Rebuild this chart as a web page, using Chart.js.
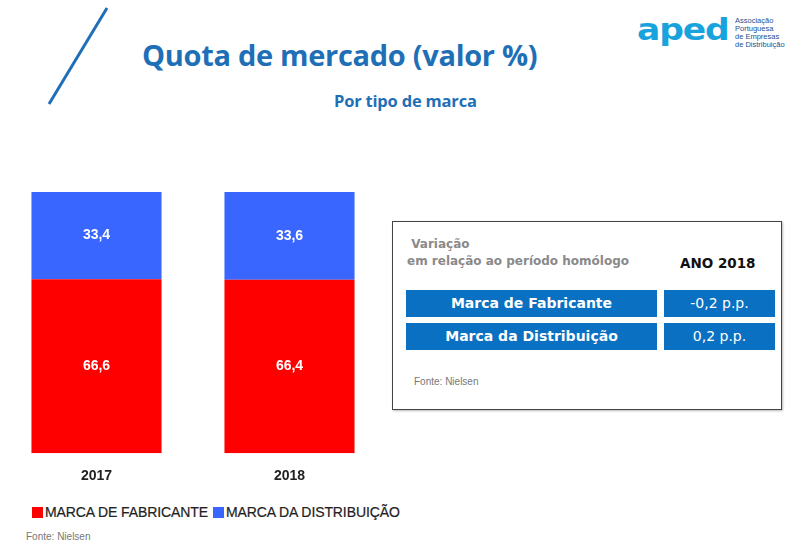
<!DOCTYPE html>
<html>
<head>
<meta charset="utf-8">
<script src="https://cdn.jsdelivr.net/npm/chart.js@4/dist/chart.umd.min.js"></script>
<style>
  html, body { margin: 0; padding: 0; background: #fff; }
  body { width: 800px; height: 552px; position: relative; overflow: hidden; font-family: "Liberation Sans", Arial, sans-serif; }
  .abs { position: absolute; }
  #title { left: 142px; top: 35px; font: 700 29px "Open Sans", sans-serif; color: #1f6fb7; white-space: nowrap; letter-spacing: -0.3px; }
  #subtitle { left: 334px; top: 89px; font: 700 16.5px "Open Sans", sans-serif; color: #1f6fb7; white-space: nowrap; letter-spacing: -0.2px; }
  #logo { left: 637px; top: 12px; font: 700 30px "DejaVu Sans", sans-serif; color: #19a3dd; transform: scaleX(1.15); transform-origin: left top; letter-spacing: -1px; }
  #logoText { left: 735px; top: 17px; font: 7.5px/8px "Liberation Sans", sans-serif; color: #1f4f8f; }
  #chartBox { left: 0; top: 185px; width: 390px; height: 307px; }
  #legend { left: 32px; top: 504px; font: 14px "Liberation Sans", sans-serif; color: #222; white-space: nowrap; -webkit-text-stroke: 0.2px #222; letter-spacing: -0.1px; }
  #legend span.sw { display: inline-block; width: 11px; height: 11px; margin-right: 2px; vertical-align: -1px; }
  #legend span.item { margin-right: 5px; }
  #fonte { left: 26px; top: 531px; font: 10px "Liberation Sans", sans-serif; color: #777; }
  #panel { left: 392px; top: 221px; width: 388px; height: 187px; border: 1px solid #444; box-shadow: 1px 1px 2px #bbb; background: #fff; }
  #varA { left: 14px; top: 14px; font: 700 12px/17px "DejaVu Sans", sans-serif; color: #8a8a8a; }
  #ano { left: 287px; top: 33px; font: 700 13.5px "DejaVu Sans", sans-serif; color: #111; }
  .rowL, .rowR { position: absolute; height: 27px; line-height: 27px; background: #0a70c2; color: #fff; text-align: center; font-family: "DejaVu Sans", sans-serif; }
  .rowL { left: 13px; width: 251px; font-weight: 700; font-size: 14px; }
  .rowR { left: 271px; width: 111px; font-size: 14px; }
  #fonteP { left: 21px; top: 154px; font: 10px "Liberation Sans", sans-serif; color: #777; }
</style>
</head>
<body>
<svg class="abs" style="left:0;top:0" width="120" height="110"><line x1="107" y1="8" x2="49" y2="104" stroke="#1f6fb7" stroke-width="3"/></svg>
<div id="title" class="abs">Quota de mercado (valor %)</div>
<div id="subtitle" class="abs">Por tipo de marca</div>
<div id="logo" class="abs">aped</div>
<div id="logoText" class="abs">Associação<br>Portuguesa<br>de Empresas<br>de Distribuição</div>

<div id="chartBox" class="abs"><canvas id="quotaChart"></canvas></div>
<div id="legend" class="abs"></div>
<div id="fonte" class="abs">Fonte: Nielsen</div>

<div id="panel" class="abs">
  <div id="varA" class="abs">&nbsp;Variação<br>em relação ao período homólogo</div>
  <div id="ano" class="abs">ANO 2018</div>
  <div id="rows"></div>
  <div id="fonteP" class="abs">Fonte: Nielsen</div>
</div>

<script>
const years = ['2017', '2018'];
const fabricante = [66.6, 66.4];
const distribuicao = [33.4, 33.6];
const seriesNames = ['MARCA DE FABRICANTE', 'MARCA DA DISTRIBUIÇÃO'];
const seriesColors = ['#ff0000', '#3966ff'];

const variacaoLabels = ['Marca de Fabricante', 'Marca da Distribuição'];
const variacaoValues = [-0.2, 0.2];

const fmt = v => v.toFixed(1).replace('.', ',');

// table on the right
const rows = document.getElementById('rows');
variacaoLabels.forEach((lab, i) => {
  const top = 68 + i * 33;
  rows.innerHTML += '<div class="rowL" style="top:' + top + 'px">' + lab + '</div>' +
    '<div class="rowR" style="top:' + top + 'px">' + fmt(variacaoValues[i]) + ' p.p.</div>';
});

// legend
const legend = document.getElementById('legend');
seriesNames.forEach((n, i) => {
  legend.innerHTML += '<span class="item"><span class="sw" style="background:' + seriesColors[i] + '"></span>' + n + '</span>';
});

const valueLabels = {
  id: 'valueLabels',
  afterDatasetsDraw(chart) {
    const ctx = chart.ctx;
    ctx.save();
    ctx.fillStyle = '#fff';
    ctx.font = 'bold 14px "Liberation Sans", Arial';
    ctx.textAlign = 'center';
    ctx.textBaseline = 'middle';
    chart.data.datasets.forEach((ds, di) => {
      chart.getDatasetMeta(di).data.forEach((bar, i) => {
        const p = bar.getCenterPoint();
        ctx.fillText(fmt(ds.data[i]), p.x, p.y);
      });
    });
    ctx.restore();
  }
};

new Chart(document.getElementById('quotaChart'), {
  type: 'bar',
  data: {
    labels: years,
    datasets: [{
      label: seriesNames[0],
      data: fabricante,
      backgroundColor: seriesColors[0]
    }, {
      label: seriesNames[1],
      data: distribuicao,
      backgroundColor: seriesColors[1]
    }]
  },
  options: {
    responsive: true,
    maintainAspectRatio: false,
    animation: false,
    layout: { padding: { top: 7, left: 0, right: 4 } },
    datasets: { bar: { barPercentage: 1, categoryPercentage: 0.674 } },
    plugins: { legend: { display: false }, tooltip: { enabled: false } },
    scales: {
      x: {
        stacked: true,
        grid: { display: false },
        border: { display: false },
        ticks: { color: '#222', padding: 7, font: { family: '"Liberation Sans", Arial', size: 14, weight: 'bold' } }
      },
      y: {
        stacked: true,
        display: false,
        min: 0,
        max: 100
      }
    }
  },
  plugins: [valueLabels]
});
</script>
</body>
</html>
